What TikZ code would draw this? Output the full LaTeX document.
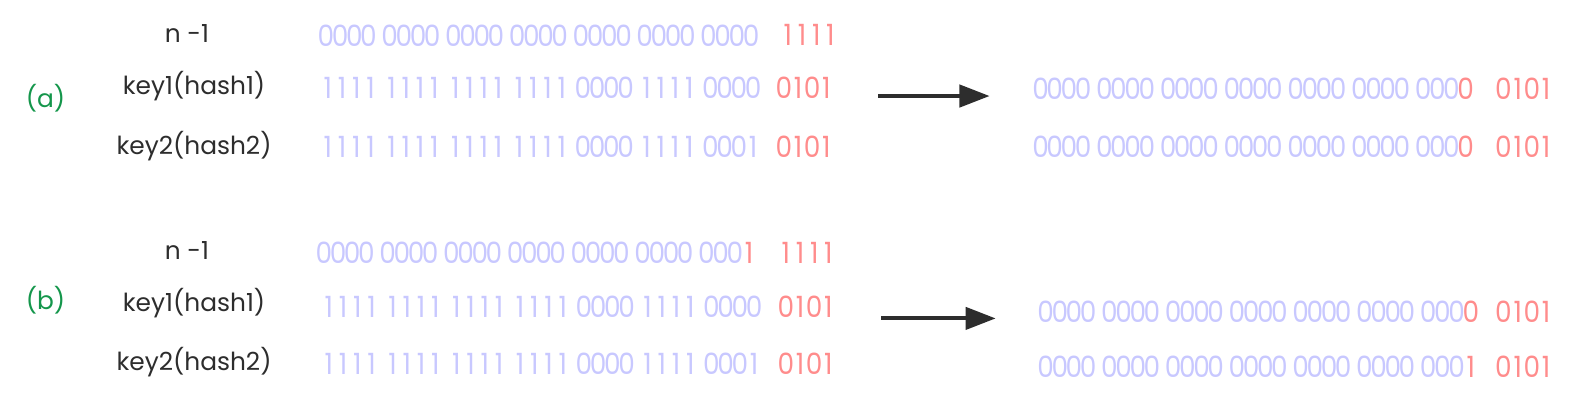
\documentclass[tikz,border=0pt]{standalone}
\usepackage{graphicx}
\usepackage{fontspec}
\setmainfont{Poppins}
\usetikzlibrary{arrows.meta}

\definecolor{bitblue}{RGB}{200,200,255}
\definecolor{bitred}{RGB}{255,140,140}
\definecolor{capgreen}{RGB}{20,150,75}
\definecolor{inkgray}{RGB}{45,45,45}

% fixed pitch digits, a small gap after every four
\newlength\bitw \setlength\bitw{8pt}
\newlength\bitgap \setlength\bitgap{3.9pt}
\newcount\bitn
\makeatletter
\def\bitloop#1{\ifx\relax#1\expandafter\@gobble\else\expandafter\@firstofone\fi{\bitput{#1}\bitloop}}
\def\bitput#1{\ifnum\bitn=4 \hspace{\bitgap}\bitn=0 \fi\advance\bitn by 1 \makebox[\bitw]{\scalebox{0.9}[1]{#1}}}
\makeatother
\newcommand\bitstr[1]{\bitn=0 \bitloop#1\relax}
\newcommand\hot[1]{\color{bitred}#1}

\tikzset{
  bits/.style={anchor=west, inner sep=0pt, text=bitblue, font=\fontsize{16.5}{18}\selectfont},
  low/.style={anchor=west, inner sep=0pt, text=bitred, font=\fontsize{16.5}{18}\selectfont},
  keylabel/.style={inner sep=0pt, text=inkgray, font=\fontsize{14}{16}\selectfont},
  caselabel/.style={inner sep=0pt, text=capgreen, font=\fontsize{14}{16}\selectfont},
  maparrow/.style={-{Triangle[length=17pt,width=12.5pt]}, line width=2.2pt, draw=inkgray}
}

\begin{document}
\begin{tikzpicture}[x=0.02cm, y=-0.02cm]
  \useasboundingbox (0,0) rectangle (1568,408);

  % Case (a)
  \node[caselabel] (capA) at (45,97) {(a)};
  \node[keylabel] (maskA) at (185,33) {n -1};
  \node[keylabel] (keyA1) at (192,85) {key1(hash1)};
  \node[keylabel] (keyA2) at (192,145) {key2(hash2)};

  \node[bits] (hiA0) at (315,35) {\bitstr{0000 0000 0000 0000 0000 0000 0000}};
  \node[low]  (loA0) at (772,35) {\bitstr{1111}};
  \node[bits] (hiA1) at (317,87) {\bitstr{1111 1111 1111 1111 0000 1111 0000}};
  \node[low]  (loA1) at (768,87) {\bitstr{0101}};
  \node[bits] (hiA2) at (317,145) {\bitstr{1111 1111 1111 1111 0000 1111 0001}};
  \node[low]  (loA2) at (768,145) {\bitstr{0101}};

  \coordinate (fromA) at (869,95);
  \coordinate (toA) at (979,95);
  \draw[maparrow] (fromA) -- (toA);

  \node[bits] (resA1) at (1022,88) {\bitstr{0000 0000 0000 0000 0000 0000 000{\hot0}}};
  \node[low]  (idxA1) at (1480,88) {\bitstr{0101}};
  \node[bits] (resA2) at (1022,145) {\bitstr{0000 0000 0000 0000 0000 0000 000{\hot0}}};
  \node[low]  (idxA2) at (1480,145) {\bitstr{0101}};

  % Case (b)
  \node[caselabel] (capB) at (45,297) {(b)};
  \node[keylabel] (maskB) at (185,248) {n -1};
  \node[keylabel] (keyB1) at (192,300) {key1(hash1)};
  \node[keylabel] (keyB2) at (192,358) {key2(hash2)};

  \node[bits] (hiB0) at (313,250) {\bitstr{0000 0000 0000 0000 0000 0000 000{\hot1}}};
  \node[low]  (loB0) at (770,250) {\bitstr{1111}};
  \node[bits] (hiB1) at (318,303) {\bitstr{1111 1111 1111 1111 0000 1111 0000}};
  \node[low]  (loB1) at (770,303) {\bitstr{0101}};
  \node[bits] (hiB2) at (318,360) {\bitstr{1111 1111 1111 1111 0000 1111 0001}};
  \node[low]  (loB2) at (770,360) {\bitstr{0101}};

  \coordinate (fromB) at (872,315);
  \coordinate (toB) at (985,315);
  \draw[maparrow] (fromB) -- (toB);

  \node[bits] (resB1) at (1027,308) {\bitstr{0000 0000 0000 0000 0000 0000 000{\hot0}}};
  \node[low]  (idxB1) at (1480,308) {\bitstr{0101}};
  \node[bits] (resB2) at (1027,363) {\bitstr{0000 0000 0000 0000 0000 0000 000{\hot1}}};
  \node[low]  (idxB2) at (1480,363) {\bitstr{0101}};
\end{tikzpicture}
\end{document}
